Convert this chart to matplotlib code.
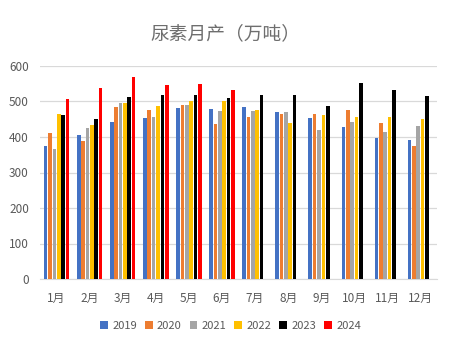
import matplotlib.pyplot as plt
import numpy as np

plt.rcParams['font.family'] = ['Noto Sans CJK SC', 'DejaVu Sans']

months = ["1月", "2月", "3月", "4月", "5月", "6月", "7月", "8月", "9月", "10月", "11月", "12月"]
years = ["2019", "2020", "2021", "2022", "2023", "2024"]
colors = ["#4472C4", "#ED7D31", "#A5A5A5", "#FFC000", "#000000", "#FF0000"]

y2019 = [375, 407, 443, 454, 483, 480, 485, 471, 454, 429, 398, 392]
y2020 = [412, 390, 485, 477, 491, 438, 457, 466, 466, 477, 440, 376]
y2021 = [367, 426, 497, 457, 491, 474, 474, 471, 421, 443, 415, 432]
y2022 = [466, 435, 497, 488, 502, 502, 477, 440, 463, 457, 457, 452]
y2023 = [463, 452, 514, 519, 519, 511, 519, 519, 488, 553, 533, 516]
y2024 = [508, 539, 570, 547, 549, 531, np.nan, np.nan, np.nan, np.nan, np.nan, np.nan]
series = [y2019, y2020, y2021, y2022, y2023, y2024]

fig = plt.figure(figsize=(4.5, 3.56), dpi=100)
ax = fig.add_axes([40 / 450, 1 - 279 / 356, 397 / 450, 213 / 356])

x = np.arange(len(months))
step = 0.132
width = 0.11
for i, (yr, vals, c) in enumerate(zip(years, series, colors)):
    ax.bar(x + (i - 2.5) * step, vals, width=width, color=c, label=yr, zorder=3)

ax.set_xlim(-0.5, len(months) - 0.5)
ax.set_ylim(0, 600)
ax.set_yticks(range(0, 601, 100))
ax.set_xticks(x)
ax.set_xticklabels(months)
ax.grid(axis='y', color='#D9D9D9', linewidth=0.9, zorder=0)
for s in ['top', 'right', 'left']:
    ax.spines[s].set_visible(False)
ax.spines['bottom'].set_color('#D9D9D9')
ax.tick_params(axis='both', length=0, labelsize=8.5, colors='#595959')
ax.tick_params(axis='x', pad=9)
ax.tick_params(axis='y', pad=8)

# 标题字距稍宽，颜色偏浅
fig.text(0.5, 1 - 34 / 356, "尿素月产（万吨）", ha='center', va='center',
         fontsize=13.5, color='#6E6E6E')

ax.legend(loc='center', bbox_to_anchor=(0.48, -0.22), ncol=6, frameon=False,
          fontsize=8, handlelength=0.7, handleheight=0.7, handletextpad=0.4,
          columnspacing=0.7, labelcolor='#595959')

fig.savefig("out.png", dpi=100)
